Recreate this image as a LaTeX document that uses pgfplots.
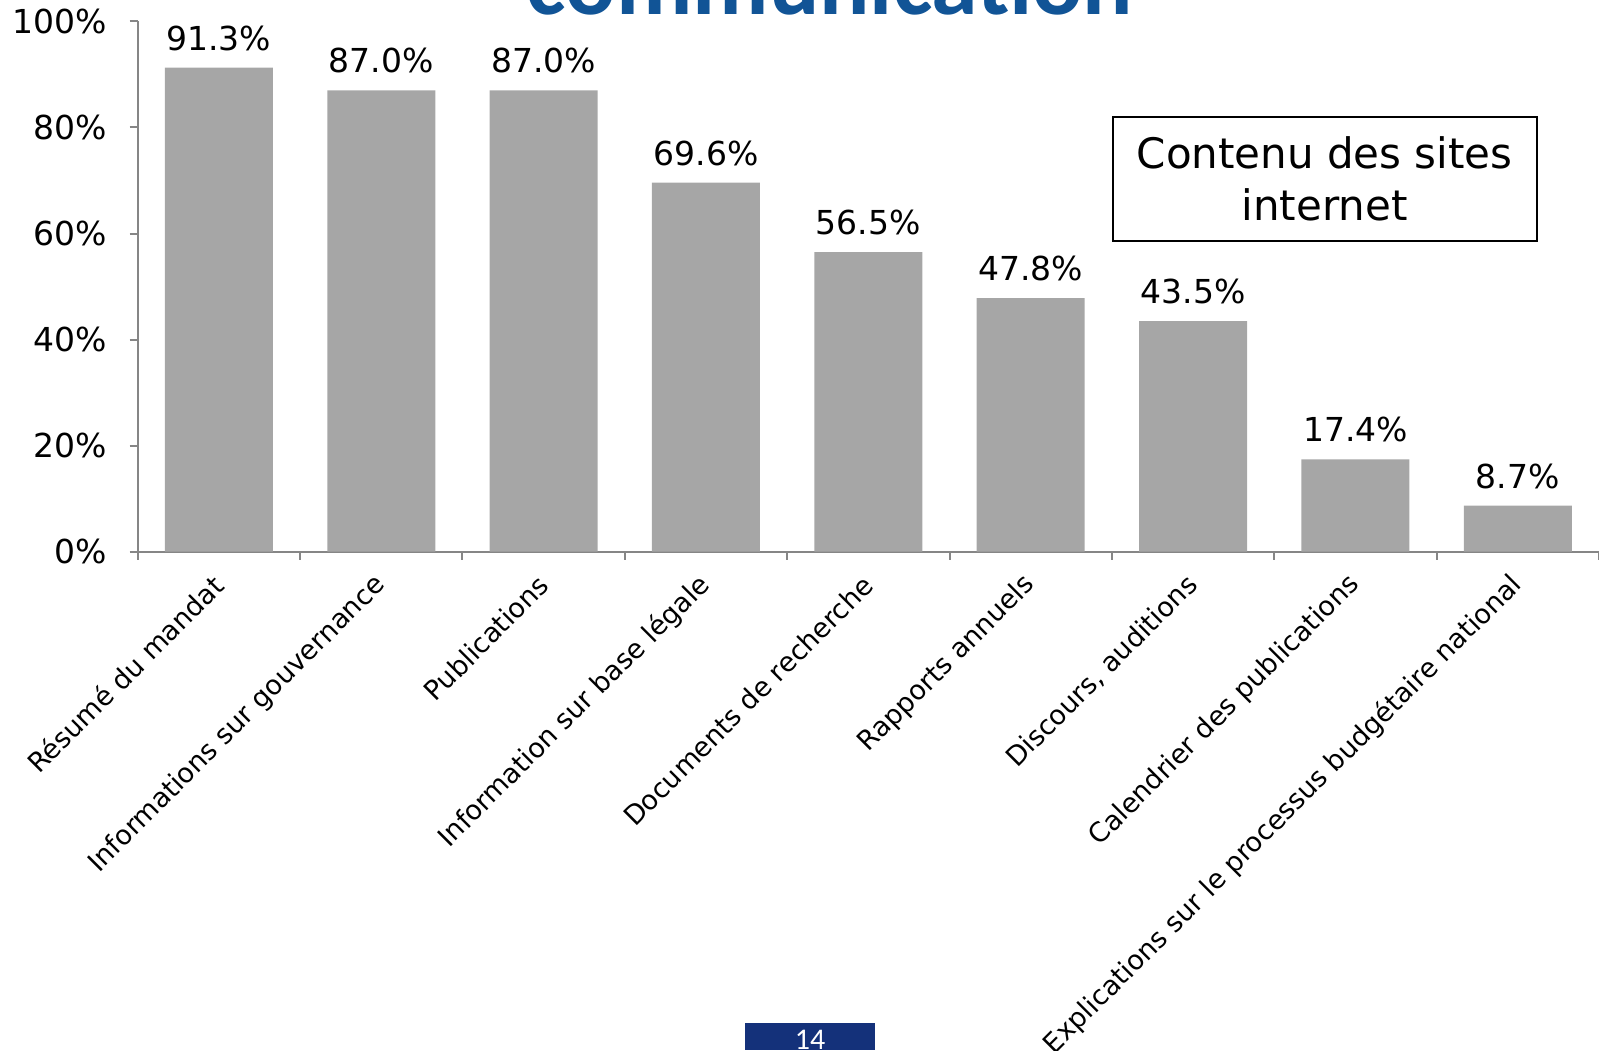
\documentclass[border=0pt]{standalone}
\usepackage{pgfplots}
\pgfplotsset{compat=1.18}
\usepackage{fontspec}
\setmainfont{DejaVu Sans}
\newfontfamily\titlefont{Carlito}
\definecolor{bargray}{RGB}{166,166,166}
\definecolor{axisgray}{RGB}{134,134,134}
\definecolor{titleblue}{RGB}{17,84,150}
\definecolor{pagenavy}{RGB}{20,49,122}
\begin{document}
\begin{tikzpicture}[x=1pt,y=1pt]
\begin{axis}[
  at={(68.85pt,249.15pt)}, anchor=south west,
  scale only axis, width=730.65pt, height=265.15pt,
  xmin=-0.5, xmax=8.5, ymin=0, ymax=100,
  axis x line*=bottom, axis y line*=left,
  axis line style={axisgray, line width=1pt},
  ybar, bar width=54pt,
  ytick={0,20,...,100},
  yticklabel={\pgfmathprintnumber{\tick}\%},
  xtick={0,...,8},
  xticklabels={Résumé du mandat, Informations sur gouvernance, Publications, Information sur base légale, Documents de recherche, Rapports annuels, {Discours, auditions}, Calendrier des publications, Explications sur le processus budgétaire national},
  minor xtick={-0.5,0.5,...,8.5},
  major x tick style={draw=none},
  tick style={axisgray, line width=1pt},
  tick align=outside, major tick length=4pt, minor tick length=4pt,
  ticklabel style={font=\fontsize{16.5}{19}\selectfont},
  yticklabel style={xshift=-8pt},
  xticklabel style={font=\fontsize{13.5}{16}\selectfont, rotate=45, anchor=east, xshift=-7.3pt, yshift=-7.3pt, inner sep=0pt},
  /pgf/number format/assume math mode=true,
  nodes near coords={\pgfmathprintnumber[fixed,fixed zerofill,precision=1]{\pgfplotspointmeta}\%},
  nodes near coords style={font=\fontsize{16.5}{19}\selectfont, black, yshift=5pt},
]
\addplot[fill=bargray, draw=none] coordinates {
  (0,91.3) (1,87.0) (2,87.0) (3,69.6) (4,56.5) (5,47.8) (6,43.5) (7,17.4) (8,8.7)
};
\end{axis}
\node[draw, line width=1pt, minimum width=212pt, minimum height=61.7pt, align=center,
      font=\fontsize{21}{26}\selectfont, inner sep=0pt] at (662.35pt,435.5pt) {Contenu des sites\\internet};
\node[anchor=base, font=\titlefont\bfseries\fontsize{47}{50}\selectfont, text=titleblue, inner sep=0pt] at (415pt,517.5pt) {communication};
\fill[pagenavy] (372.5pt,0) rectangle (437.5pt,13.5pt);
\node[anchor=base, text=white, font=\titlefont\fontsize{15}{17}\selectfont, inner sep=0pt] at (405pt,0.5pt) {14};
\pgfresetboundingbox
\path[use as bounding box] (0,0) rectangle (799.5pt,525pt);
\end{tikzpicture}
\end{document}
